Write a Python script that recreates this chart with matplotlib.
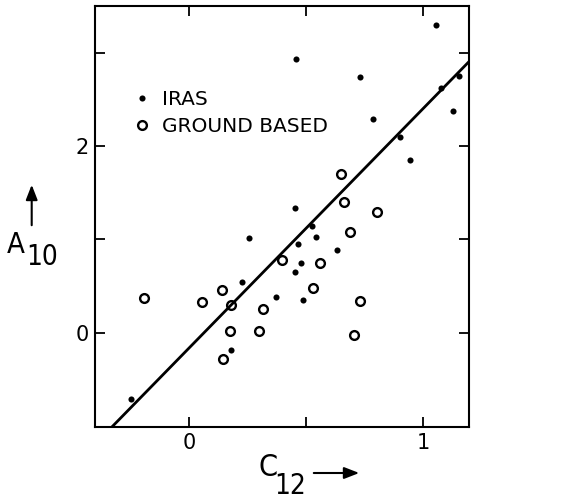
import numpy as np
import matplotlib
matplotlib.use('Agg')
import matplotlib.pyplot as plt
from matplotlib.ticker import FixedLocator

# IRAS points (C12, A10)
iras_c12 = [1.056, 0.456, 0.732, 1.076, 1.153, 1.128, 0.784, 0.902, 0.943, 0.453, 0.256,
            0.225, 0.371, 0.178, -0.247, 0.527, 0.541, 0.466, 0.632, 0.477, 0.452, 0.485]
iras_a10 = [3.30, 2.93, 2.74, 2.62, 2.75, 2.38, 2.29, 2.10, 1.85, 1.34, 1.015,
            0.54, 0.38, -0.18, -0.71, 1.14, 1.02, 0.95, 0.89, 0.75, 0.65, 0.347]

# ground based points (C12, A10)
ground_c12 = [0.650, 0.662, 0.801, 0.688, 0.399, 0.560, 0.531, 0.731, 0.704,
              -0.192, 0.057, 0.141, 0.178, 0.315, 0.175, 0.298, 0.145]
ground_a10 = [1.70, 1.40, 1.29, 1.08, 0.78, 0.744, 0.478, 0.336, -0.025,
              0.372, 0.329, 0.454, 0.297, 0.257, 0.02, 0.02, -0.285]

# fitted line  A10 = slope * C12 + intercept
fit_slope = 2.57
fit_intercept = -0.167

x_labels = ['0', '1']
y_labels = ['0', '2']

W, H = 570, 503
fig = plt.figure(figsize=(W / 100, H / 100), dpi=100)
ax = fig.add_axes([95 / W, 1 - 426.7 / H, 374 / W, 420.7 / H])

ax.plot(iras_c12, iras_a10, 'o', color='black', markersize=4.4, mew=0, label='IRAS')
ax.plot(ground_c12, ground_a10, 'o', markerfacecolor='white', markeredgecolor='black',
        markersize=6.3, mew=1.7, label='GROUND BASED')

xl = np.array([-0.4, 1.2])
ax.plot(xl, fit_slope * xl + fit_intercept, color='black', lw=2.0)

ax.set_xlim(-0.4, 1.195)
ax.set_ylim(-1.007, 3.5)

ax.xaxis.set_major_locator(FixedLocator([0, 1]))
ax.xaxis.set_minor_locator(FixedLocator([0.5]))
ax.yaxis.set_major_locator(FixedLocator([0, 2]))
ax.yaxis.set_minor_locator(FixedLocator([1, 3]))
ax.set_xticklabels(x_labels)
ax.set_yticklabels(y_labels)
ax.tick_params(which='both', direction='in', top=True, right=True,
               length=7.5, width=1.3, labelsize=15, pad=4.5)
for s in ax.spines.values():
    s.set_linewidth(1.5)

leg = ax.legend(loc='upper left', bbox_to_anchor=(0.105, 0.80), frameon=False,
                fontsize=14.5, handlelength=0.8, handletextpad=0.6,
                labelspacing=0.4, borderpad=0, borderaxespad=0)

# axis labels with arrows, drawn in pixel positions of the figure
def fx(px):
    return px / W

def fy(py):
    return 1 - py / H

arrow = dict(arrowstyle='-|>,head_length=0.9,head_width=0.35', color='black', lw=1.5)

fig.text(fx(258), fy(467), 'C', fontsize=22, ha='left', va='center', fontstretch='condensed')
fig.text(fx(274), fy(486), '12', fontsize=20, ha='left', va='center', fontstretch='condensed')
ax.annotate('', xy=(fx(362), fy(473)), xytext=(fx(311), fy(473)), xycoords='figure fraction',
            textcoords='figure fraction', arrowprops=arrow, annotation_clip=False)

fig.text(fx(7), fy(245), 'A', fontsize=21, ha='left', va='center', fontstretch='condensed')
fig.text(fx(26), fy(257), '10', fontsize=20, ha='left', va='center', fontstretch='condensed')
ax.annotate('', xy=(fx(31.7), fy(182)), xytext=(fx(31.7), fy(228)), xycoords='figure fraction',
            textcoords='figure fraction', arrowprops=arrow, annotation_clip=False)

fig.savefig('out.png', dpi=100)
